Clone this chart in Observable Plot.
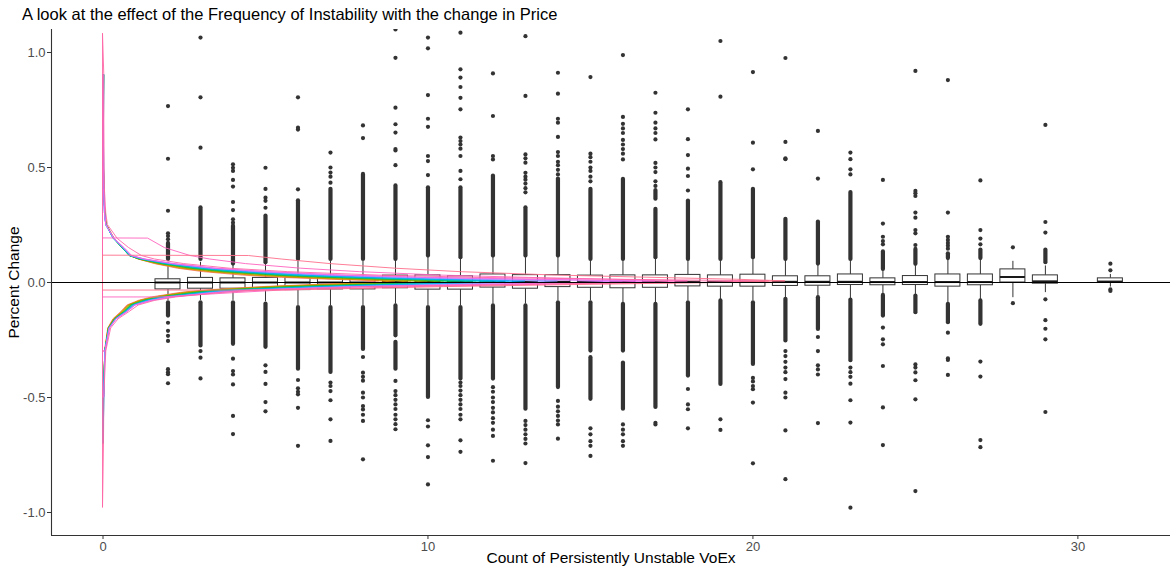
<!DOCTYPE html>
<html><head><meta charset="utf-8">
<script src="https://cdn.jsdelivr.net/npm/d3@7"></script>
<script src="https://cdn.jsdelivr.net/npm/@observablehq/plot@0.6"></script>
<style>
body{margin:0;background:#fff;font-family:"Liberation Sans",Arial,sans-serif;}
#title{height:28px;padding-left:22px;font-size:16.5px;line-height:28px;color:#000;white-space:nowrap;}
</style></head><body>
<div id="title">A look at the effect of the Frequency of Instability with the change in Price</div>
<div id="chart"></div>
<script>
// ---- box plot summaries (x = count of persistently unstable VoEx) ----
const groups      = [2,3,4,5,6,7,8,9,10,11,12,13,14,15,16,17,18,19,20,21,22,23,24,25,26,27,28,29,31];
const q1          = [-0.030,-0.027,-0.027,-0.027,-0.033,-0.030,-0.030,-0.025,-0.031,-0.031,-0.022,-0.027,-0.020,-0.023,-0.025,-0.023,-0.017,-0.018,-0.018,-0.015,-0.014,-0.011,-0.012,-0.011,-0.018,-0.012,0.000,-0.005,-0.001];
const median      = [0.000,0.000,0.000,0.000,0.000,0.000,0.000,0.002,0.002,0.002,0.003,0.003,0.003,0.003,0.003,0.003,0.003,0.003,0.003,0.003,0.003,0.003,0.002,0.002,0.002,0.002,0.024,0.005,0.004];
const q3          = [0.014,0.020,0.018,0.020,0.021,0.021,0.020,0.030,0.031,0.027,0.035,0.032,0.032,0.030,0.031,0.031,0.033,0.031,0.034,0.027,0.027,0.035,0.018,0.028,0.035,0.035,0.057,0.031,0.018];
const whiskerLow  = [-0.078,-0.078,-0.078,-0.084,-0.100,-0.100,-0.100,-0.094,-0.100,-0.100,-0.094,-0.094,-0.080,-0.080,-0.087,-0.087,-0.080,-0.074,-0.080,-0.066,-0.060,-0.070,-0.050,-0.052,-0.088,-0.074,-0.066,-0.044,-0.020];
const whiskerHigh = [0.088,0.088,0.075,0.080,0.092,0.092,0.092,0.095,0.108,0.100,0.108,0.108,0.108,0.095,0.095,0.100,0.095,0.095,0.100,0.095,0.075,0.095,0.052,0.073,0.098,0.098,0.092,0.072,0.035];

// ---- runs of overlapping outliers: [group, low, high] ----
const outlierRuns = [
  [2,0.10,0.17],[2,-0.146,-0.088],
  [3,0.10,0.325],[3,-0.276,-0.088],
  [4,0.08,0.245],[4,-0.269,-0.088],
  [5,0.086,0.289],[5,-0.282,-0.094],
  [6,0.10,0.355],[6,-0.377,-0.109],
  [7,0.10,0.405],[7,-0.391,-0.109],
  [8,0.10,0.47],[8,-0.291,-0.109],
  [9,0.10,0.42],[9,-0.232,-0.102],[9,-0.377,-0.26],
  [10,0.115,0.412],[10,-0.50,-0.109],
  [11,0.108,0.412],[11,-0.42,-0.109],
  [12,0.115,0.463],[12,-0.42,-0.102],
  [13,0.115,0.325],[13,-0.551,-0.102],
  [14,0.115,0.45],[14,-0.457,-0.088],
  [15,0.10,0.405],[15,-0.298,-0.088],[15,-0.508,-0.327],
  [16,0.10,0.449],[16,-0.298,-0.095],[16,-0.551,-0.35],
  [17,0.108,0.318],[17,0.362,0.40],[17,-0.543,-0.095],
  [18,0.10,0.354],[18,-0.407,-0.088],
  [19,0.10,0.434],[19,-0.443,-0.08],
  [20,0.108,0.405],[20,-0.356,-0.088],
  [21,0.10,0.275],[21,-0.254,-0.073],
  [22,0.08,0.263],[22,-0.204,-0.066],
  [23,0.10,0.391],[23,-0.34,-0.076],
  [24,0.057,0.133],[24,-0.146,-0.056],
  [25,0.079,0.144],[25,-0.131,-0.059],
  [26,0.104,0.125],[26,-0.175,-0.095],
  [27,0.104,0.141],[27,-0.182,-0.08],
  [29,0.086,0.141]
];

// ---- isolated outliers: [group, values] ----
const outlierPoints = [
  [2,[0.188,0.202,0.214,0.312,0.538,0.767,-0.175,-0.21,-0.232,-0.254,-0.377,-0.39,-0.399,-0.438]],
  [3,[0.586,0.805,1.065,-0.298,-0.327,-0.417]],
  [4,[0.26,0.275,0.315,0.35,0.417,0.446,0.485,0.499,0.514,-0.331,-0.385,-0.40,-0.443,-0.58,-0.659]],
  [5,[0.325,0.355,0.369,0.407,0.499,-0.36,-0.389,-0.441,-0.52,-0.56]],
  [6,[0.405,0.665,0.673,0.805,-0.424,-0.46,-0.475,-0.486,-0.545,-0.71]],
  [7,[0.434,0.46,0.478,0.5,0.565,-0.435,-0.45,-0.472,-0.512,-0.595,-0.689]],
  [8,[0.628,0.683,-0.324,-0.392,-0.41,-0.427,-0.479,-0.5,-0.537,-0.552,-0.575,-0.602,-0.769]],
  [9,[0.51,0.574,0.58,0.652,0.688,0.76,0.977,1.1,-0.428,-0.472,-0.49,-0.51,-0.53,-0.55,-0.575,-0.595,-0.616,-0.638]],
  [10,[0.467,0.528,0.55,0.677,0.712,0.815,1.018,1.065,-0.599,-0.626,-0.708,-0.759,-0.878]],
  [11,[0.449,0.485,0.55,0.582,0.6,0.615,0.63,0.753,0.803,0.85,0.891,0.927,1.086,-0.435,-0.45,-0.47,-0.49,-0.51,-0.53,-0.55,-0.575,-0.595,-0.686,-0.736]],
  [12,[0.535,0.55,0.724,0.909,-0.455,-0.475,-0.50,-0.52,-0.545,-0.565,-0.59,-0.61,-0.64,-0.667,-0.775]],
  [13,[0.392,0.41,0.43,0.447,0.46,0.477,0.521,0.54,0.557,0.811,1.071,-0.602,-0.62,-0.64,-0.66,-0.68,-0.70,-0.785]],
  [14,[0.47,0.49,0.51,0.525,0.55,0.567,0.633,0.695,0.712,0.821,0.912,-0.515,-0.54,-0.56,-0.58,-0.60,-0.617,-0.679]],
  [15,[0.44,0.46,0.485,0.5,0.525,0.545,0.56,0.893,-0.634,-0.66,-0.69,-0.71,-0.754]],
  [16,[0.535,0.56,0.58,0.6,0.62,0.65,0.67,0.69,0.72,0.989,-0.617,-0.64,-0.66,-0.69,-0.71]],
  [17,[0.42,0.44,0.48,0.50,0.52,0.622,0.65,0.67,0.695,0.738,0.825,-0.61,-0.617]],
  [18,[0.4,0.463,0.495,0.554,0.623,0.753,-0.463,-0.53,-0.551,-0.634]],
  [19,[0.808,1.05,-0.595,-0.641]],
  [20,[0.492,0.608,0.915,-0.415,-0.43,-0.45,-0.464,-0.522,-0.786]],
  [21,[0.536,0.54,0.611,0.976,-0.298,-0.32,-0.345,-0.37,-0.39,-0.42,-0.479,-0.5,-0.643,-0.855]],
  [22,[0.452,0.659,-0.237,-0.298,-0.36,-0.378,-0.4,-0.611]],
  [23,[0.47,0.492,0.536,0.565,-0.37,-0.39,-0.41,-0.44,-0.512,-0.609,-0.979]],
  [24,[0.166,0.18,0.199,0.256,0.446,-0.196,-0.247,-0.269,-0.363,-0.543,-0.707]],
  [25,[0.163,0.214,0.228,0.282,0.304,0.376,0.388,0.398,0.92,-0.356,-0.37,-0.391,-0.425,-0.508,-0.907]],
  [26,[0.147,0.16,0.172,0.185,0.199,0.304,0.88,-0.218,-0.33,-0.337,-0.402]],
  [27,[0.166,0.191,0.228,0.444,-0.344,-0.409,-0.685,-0.716]],
  [28,[0.153,-0.09]],
  [29,[0.217,0.263,0.685,-0.073,-0.164,-0.201,-0.247,-0.563]],
  [31,[0.053,0.082,-0.03,-0.037]]
];

// ---- density outlines drawn at x = 0 (percent change on y, density on x) ----
const densityY = [1.08,0.9,0.7,0.5,0.4,0.3,0.25,0.19,0.15,0.115,0.1,0.08,0.06,0.045,0.03,0.02,0.012,0.005,-0.002,-0.01,-0.02,-0.035,-0.045,-0.065,-0.08,-0.1,-0.13,-0.16,-0.2,-0.3,-0.5,-0.7,-0.98];
const densityGroups = [2,4,6,8,10,12,14,16,18,20,22,24,26,28,29,31];
const N = null;
const densityValues = [
  [N,N,0.02,0.03,0.04,0.07,0.12,0.36,0.62,0.85,1.1,1.6,2.3,3.1,4.3,5.5,7.0,8.5,8.0,6.6,4.9,3.1,2.4,1.5,1.1,0.75,0.55,0.32,0.16,0.06,N,N,N],
  [N,N,N,0.03,0.04,0.07,0.12,0.35,0.6,0.85,1.1,1.65,2.4,3.3,4.6,5.9,7.4,9.0,8.4,6.9,5.1,3.3,2.5,1.6,1.15,0.78,0.58,0.34,0.17,0.07,0.03,N,N],
  [N,N,0.03,0.03,0.04,0.07,0.11,0.34,0.6,0.84,1.12,1.7,2.5,3.4,4.8,6.2,7.8,9.5,8.9,7.2,5.3,3.4,2.6,1.6,1.15,0.8,0.6,0.35,0.17,0.07,0.03,0.02,N],
  [N,N,N,0.03,0.04,0.07,0.11,0.34,0.6,0.83,1.13,1.75,2.6,3.6,5.1,6.6,8.2,10.0,9.3,7.6,5.5,3.5,2.7,1.7,1.2,0.82,0.62,0.36,0.18,0.07,0.03,0.02,N],
  [N,0.04,0.02,0.03,0.04,0.07,0.11,0.34,0.6,0.82,1.14,1.8,2.7,3.7,5.3,6.9,8.6,10.5,9.8,8.0,5.8,3.6,2.8,1.75,1.25,0.85,0.64,0.37,0.18,0.07,0.03,0.03,N],
  [N,0.02,0.03,0.03,0.04,0.07,0.11,0.34,0.6,0.82,1.15,1.85,2.8,3.9,5.5,7.2,9.0,11.0,10.2,8.3,6.0,3.7,2.9,1.8,1.3,0.88,0.66,0.38,0.19,0.07,0.03,0.02,N],
  [N,0.03,0.02,0.03,0.04,0.07,0.1,0.33,0.6,0.83,1.18,1.9,2.9,4.0,5.7,7.5,9.4,11.5,10.7,8.7,6.3,3.9,3.0,1.85,1.3,0.9,0.67,0.39,0.19,0.07,0.03,N,N],
  [N,0.05,0.03,0.03,0.04,0.07,0.1,0.33,0.6,0.84,1.2,1.95,3.0,4.2,5.9,7.8,9.8,12.0,11.2,9.1,6.5,4.0,3.1,1.9,1.35,0.92,0.68,0.39,0.19,0.07,0.04,0.02,N],
  [N,N,0.02,0.03,0.04,0.06,0.1,0.33,0.62,0.85,1.22,2.0,3.1,4.3,6.1,8.1,10.2,12.5,11.6,9.4,6.7,4.1,3.2,1.95,1.4,0.95,0.7,0.4,0.2,0.07,0.04,N,N],
  [N,0.02,0.02,0.04,0.04,0.06,0.1,0.34,0.62,0.86,1.24,2.05,3.2,4.5,6.4,8.4,10.6,13.0,12.1,9.8,7.0,4.3,3.3,2.0,1.4,0.96,0.7,0.4,0.2,0.07,0.04,0.02,N],
  [N,N,N,0.03,0.04,0.06,0.1,0.34,0.62,0.87,1.26,2.1,3.3,4.7,6.8,9.0,11.4,14.0,13.0,10.5,7.4,4.5,3.4,2.05,1.45,0.97,0.72,0.41,0.2,0.07,0.04,N,N],
  [N,N,N,N,0.04,0.06,0.1,0.35,0.64,0.88,1.28,2.15,3.4,4.9,7.2,9.7,12.5,16.0,14.5,11.3,7.8,4.6,3.5,2.1,1.5,1.0,0.74,0.42,0.21,0.08,0.04,N,N],
  [N,0.02,0.03,0.03,0.04,0.06,0.1,0.35,0.66,0.9,1.3,2.2,3.5,5.1,7.5,10.2,13.3,17.0,15.3,11.8,8.1,4.7,3.6,2.15,1.5,1.0,0.74,0.42,0.21,0.08,N,N,N],
  [N,N,N,N,N,N,N,1.4,1.9,2.7,3.3,4.4,6.1,7.9,10.4,13.1,15.7,18.0,16.5,13.5,9.5,5.5,4.2,1.8,N,N,N,N,N,N,N,N,N],
  [0.0,0.04,0.04,0.05,0.06,0.1,0.15,0.45,0.8,1.2,1.6,2.5,3.9,5.7,8.5,11.6,15.7,20.5,18.0,12.8,8.2,4.9,3.7,2.25,1.6,1.1,0.8,0.48,0.25,0.1,0.04,0.03,0.0],
  [N,N,N,N,N,N,N,N,N,4.5,5.5,7.0,9.0,11.0,14.0,17.0,19.5,21.0,19.0,15.0,10.5,5.5,N,N,N,N,N,N,N,N,N,N,N]
];

const yTicks = [-1.0,-0.5,0.0,0.5,1.0];
const xTicks = [0,10,20,30];
const xTitle = "Count of Persistently Unstable VoEx";
const yTitle = "Percent Change";

// ---- R-style hcl() (polar CIE-LUV) colour, as in ggplot's hue palette ----
function hclLuv(h, c, l) {
  const Xn = 95.047, Yn = 100, Zn = 108.883;
  const un = 4 * Xn / (Xn + 15 * Yn + 3 * Zn), vn = 9 * Yn / (Xn + 15 * Yn + 3 * Zn);
  const hr = h * Math.PI / 180, U = c * Math.cos(hr), V = c * Math.sin(hr);
  const Y = l > 8 ? Yn * Math.pow((l + 16) / 116, 3) : Yn * l / 903.3;
  const u = U / (13 * l) + un, v = V / (13 * l) + vn;
  const X = 9 * Y * u / (4 * v), Z = -X / 3 - 5 * Y + 3 * Y / v;
  const x = X / 100, y = Y / 100, z = Z / 100;
  const lin = [3.240479 * x - 1.537150 * y - 0.498535 * z,
               -0.969256 * x + 1.875992 * y + 0.041556 * z,
               0.055648 * x - 0.204043 * y + 1.057311 * z];
  const g = t => { t = Math.max(0, Math.min(1, t)); return t <= 0.0031308 ? 12.92 * t : 1.055 * Math.pow(t, 1 / 2.4) - 0.055; };
  return d3.rgb(...lin.map(t => Math.round(g(t) * 255))).formatHex();
}
const hue = g => hclLuv(15 + groups.indexOf(g) * 360 / groups.length, 100, 65);

// ---- build tables ----
const boxes = groups.map((g, i) => ({g, q1: q1[i], med: median[i], q3: q3[i], lo: whiskerLow[i], hi: whiskerHigh[i]}));
const runs = outlierRuns.map(([g, lo, hi]) => ({g, lo, hi}));
const pts = outlierPoints.flatMap(([g, vs]) => vs.map(v => ({g, v})));
const half = 0.385;

const densityMarks = densityGroups.map((g, k) => {
  const rows = densityY.map((y, j) => ({y, d: densityValues[k][j]})).filter(r => r.d != null);
  return Plot.areaX(rows, {x1: () => 0, x2: "d", y: "y", fill: "none", stroke: hue(g), strokeWidth: 0.9, clip: true});
});

const chart = Plot.plot({
  width: 1170, height: 539,
  marginLeft: 51, marginRight: 0, marginTop: 1, marginBottom: 32,
  style: {fontFamily: "Liberation Sans, Arial, sans-serif", fontSize: "13px", color: "#4d4d4d", background: "white"},
  x: {domain: [-1.585, 32.85]},
  y: {domain: [-1.1, 1.1]},
  marks: [
    Plot.ruleX(boxes, {x: "g", y1: "q3", y2: "hi", stroke: "#333", strokeWidth: 1}),
    Plot.ruleX(boxes, {x: "g", y1: "lo", y2: "q1", stroke: "#333", strokeWidth: 1}),
    Plot.rect(boxes, {x1: d => d.g - half, x2: d => d.g + half, y1: "q1", y2: "q3", fill: "white", stroke: "#333", strokeWidth: 1}),
    Plot.ruleY(boxes, {y: "med", x1: d => d.g - half, x2: d => d.g + half, stroke: "#1a1a1a", strokeWidth: 2}),
    Plot.ruleX(runs, {x: "g", y1: "lo", y2: "hi", stroke: "#333", strokeWidth: 4.2, strokeLinecap: "round", clip: true}),
    Plot.dot(pts, {x: "g", y: "v", r: 2.1, fill: "#333", stroke: null, clip: true}),
    ...densityMarks,
    Plot.ruleY([0], {stroke: "black", strokeWidth: 1}),
    Plot.ruleY([-1.1], {stroke: "#333", strokeWidth: 1.1}),
    Plot.ruleX([-1.585], {stroke: "#333", strokeWidth: 1.1}),
    Plot.axisY({ticks: yTicks, tickFormat: d => d.toFixed(1), tickSize: 4, tickPadding: 2, label: null, stroke: "#333"}),
    Plot.axisX({ticks: xTicks, tickFormat: d => String(d), tickSize: 4, tickPadding: 2, label: null, stroke: "#333"}),
    Plot.text([xTitle], {text: d => d, frameAnchor: "bottom", dy: 23, lineAnchor: "middle", fontSize: 15.5, fill: "black"}),
    Plot.text([yTitle], {text: d => d, frameAnchor: "left", dx: -37, rotate: -90, lineAnchor: "middle", textAnchor: "middle", fontSize: 15.5, fill: "black"})
  ]
});
document.getElementById("chart").appendChild(chart);
</script></body></html>
